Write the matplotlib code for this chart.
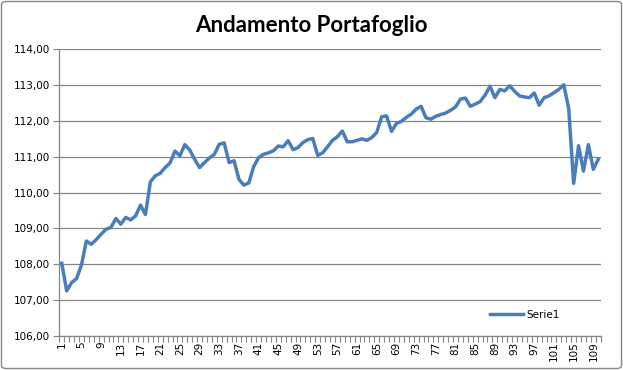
import matplotlib
matplotlib.use("Agg")
import matplotlib.pyplot as plt
from matplotlib.patches import FancyBboxPatch
from matplotlib.ticker import FuncFormatter, FixedLocator

title = "Andamento Portafoglio"
series_name = "Serie1"
values = [
    108.03, 107.26, 107.49, 107.60, 107.98, 108.65, 108.56, 108.69, 108.84, 108.98,
    109.03, 109.28, 109.12, 109.31, 109.24, 109.35, 109.65, 109.39, 110.30, 110.47,
    110.54, 110.70, 110.83, 111.16, 111.03, 111.34, 111.19, 110.93, 110.70, 110.84,
    110.97, 111.07, 111.35, 111.39, 110.84, 110.89, 110.37, 110.21, 110.27, 110.73,
    110.98, 111.07, 111.11, 111.17, 111.30, 111.28, 111.45, 111.20, 111.26, 111.40,
    111.48, 111.51, 111.04, 111.11, 111.28, 111.46, 111.56, 111.72, 111.42, 111.42,
    111.46, 111.50, 111.46, 111.54, 111.68, 112.12, 112.14, 111.71, 111.93, 111.99,
    112.10, 112.19, 112.33, 112.41, 112.09, 112.05, 112.13, 112.18, 112.22, 112.30,
    112.39, 112.61, 112.64, 112.41, 112.47, 112.54, 112.72, 112.97, 112.65, 112.88,
    112.84, 112.98, 112.83, 112.70, 112.67, 112.65, 112.78, 112.44, 112.65, 112.70,
    112.79, 112.88, 113.01, 112.35, 110.26, 111.31, 110.60, 111.34, 110.65, 110.93,
]
categories = list(range(1, len(values) + 1))
x_labels = [str(c) for c in categories[::4]]
y_ticks = [106, 107, 108, 109, 110, 111, 112, 113, 114]

W, H = 623, 370
fig = plt.figure(figsize=(W / 100, H / 100), dpi=100)
fig.patch.set_facecolor("white")

border = FancyBboxPatch((1.5 / W, 1.5 / H), 1 - 3 / W, 1 - 3 / H,
                        boxstyle="round,pad=0,rounding_size=0.008",
                        transform=fig.transFigure, fill=False,
                        edgecolor="#868686", linewidth=1.0)
fig.patches.append(border)

left, right, top, bottom = 59.3, 600.7, 49.3, 336.0
ax = fig.add_axes([left / W, 1 - bottom / H, (right - left) / W, (bottom - top) / H])

grid_c = "#868686"
line_c = "#4A7EBB"

ax.plot(categories, values, color=line_c, linewidth=2.5, solid_joinstyle="round",
        label=series_name, zorder=3)

ax.set_xlim(0.5, len(values) + 0.5)
ax.set_ylim(106, 114)
ax.set_yticks(y_ticks)
ax.yaxis.set_major_formatter(FuncFormatter(lambda v, p: f"{v:.2f}".replace(".", ",")))
ax.grid(axis="y", color=grid_c, linewidth=0.9, zorder=1)
ax.set_axisbelow(True)

ax.xaxis.set_major_locator(FixedLocator(categories[::4]))
ax.set_xticklabels(x_labels, rotation=90)
ax.xaxis.set_minor_locator(FixedLocator([c + 0.5 for c in [0] + categories]))
ax.tick_params(axis="x", which="major", length=0, pad=4, labelsize=7.5)
ax.tick_params(axis="x", which="minor", length=4, color=grid_c, width=0.8, direction="out")
ax.tick_params(axis="y", which="major", length=4, color=grid_c, width=0.8,
               labelsize=7.5, pad=3)

for s in ["top", "right"]:
    ax.spines[s].set_visible(False)
for s in ["left", "bottom"]:
    ax.spines[s].set_color(grid_c)
    ax.spines[s].set_linewidth(0.9)

fig.text(311 / W, 1 - 25 / H, title, ha="center", va="center",
         fontsize=16, fontweight="bold", family="Lato")

ax.legend(loc="center", bbox_to_anchor=(525 / W, 1 - 315 / H),
          bbox_transform=fig.transFigure, frameon=False, fontsize=7.5,
          handlelength=3.2, handletextpad=0.3)

fig.savefig("out.png", dpi=100)
